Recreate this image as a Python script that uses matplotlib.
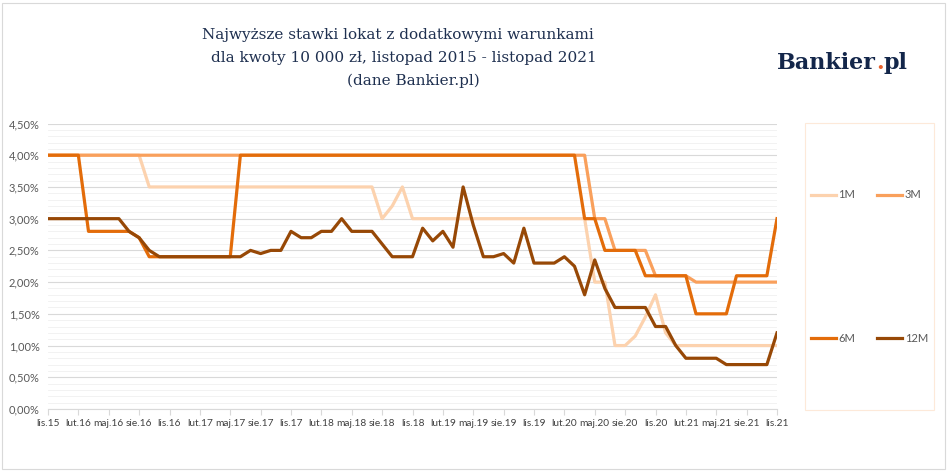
import matplotlib
matplotlib.use("Agg")
import matplotlib.pyplot as plt
from matplotlib.patches import Rectangle
from matplotlib.ticker import MultipleLocator, FuncFormatter

months = ["lis.15", "lut.16", "maj.16", "sie.16", "lis.16", "lut.17", "maj.17", "sie.17",
          "lis.17", "lut.18", "maj.18", "sie.18", "lis.18", "lut.19", "maj.19", "sie.19",
          "lis.19", "lut.20", "maj.20", "sie.20", "lis.20", "lut.21", "maj.21", "sie.21", "lis.21"]

# monthly rates, lis.15 .. lis.21 (73 points)
m1 = ([4.0] * 10 + [3.5] * 23 + [3.0, 3.2, 3.5] + [3.0] * 18 +
      [2.0, 2.0, 1.0, 1.0, 1.15, 1.45, 1.8, 1.2] + [1.0] * 11)
m3 = [4.0] * 54 + [3.0, 3.0] + [2.5] * 4 + [2.1] * 4 + [2.0] * 9
m6 = ([4.0] * 4 + [2.8] * 5 + [2.7] + [2.4] * 9 + [4.0] * 34 + [3.0] * 2 +
      [2.5] * 4 + [2.1] * 5 + [1.5] * 4 + [2.1] * 4 + [3.0])
m12 = ([3.0] * 8 + [2.8, 2.7, 2.5] + [2.4] * 9 +
       [2.5, 2.45, 2.5, 2.5, 2.8, 2.7, 2.7, 2.8, 2.8, 3.0, 2.8, 2.8, 2.8, 2.6, 2.4, 2.4,
        2.4, 2.85, 2.65, 2.8, 2.55, 3.5, 2.9, 2.4, 2.4, 2.45, 2.3, 2.85, 2.3, 2.3, 2.3,
        2.4, 2.25, 1.8, 2.35, 1.9] +
       [1.6] * 4 + [1.3] * 2 + [1.0] + [0.8] * 4 + [0.7] * 5 + [1.2])

series = [("1M", m1, "#FCD2AE"), ("3M", m3, "#F9A05C"),
          ("6M", m6, "#E36C0A"), ("12M", m12, "#974806")]

title_lines = ["Najwyższe stawki lokat z dodatkowymi warunkami",
               "dla kwoty 10 000 zł, listopad 2015 - listopad 2021",
               "(dane Bankier.pl)"]

W, H = 948, 472
fig = plt.figure(figsize=(W / 100, H / 100), dpi=100)
fig.patch.set_facecolor("white")
fig.patches.append(Rectangle((2 / W, 3 / H), 943 / W, 466 / H, transform=fig.transFigure,
                             fill=False, edgecolor="#D9D9D9", linewidth=0.8))

ax = fig.add_axes([48 / W, 1 - 409 / H, 729 / W, 285.5 / H])
x = list(range(len(m1)))
lines = {}
for name, vals, col in series:
    lines[name], = ax.plot(x, vals, color=col, linewidth=2.3, label=name,
                           solid_joinstyle="round")

ax.set_xlim(0, len(m1) - 1)
ax.set_ylim(0, 4.5)
ax.set_xticks(range(0, len(m1), 3))
ax.set_xticklabels(months)
ax.yaxis.set_major_locator(MultipleLocator(0.5))
ax.yaxis.set_minor_locator(MultipleLocator(0.1))
ax.yaxis.set_major_formatter(FuncFormatter(lambda v, p: f"{v:.2f}%".replace(".", ",")))
ax.grid(axis="y", which="major", color="#D9D9D9", linewidth=0.8)
ax.grid(axis="y", which="minor", color="#F0F0F0", linewidth=0.6)
ax.set_axisbelow(True)
for s in ["top", "right", "left"]:
    ax.spines[s].set_visible(False)
ax.spines["bottom"].set_color("#D9D9D9")
ax.tick_params(axis="x", length=4, color="#D9D9D9", labelsize=7.3, labelcolor="#404040", pad=3)
ax.tick_params(axis="y", which="both", length=0, labelsize=8, labelcolor="#595959", pad=6)
for lab in ax.get_xticklabels() + ax.get_yticklabels():
    lab.set_family("Lato")

# legend box on the right
fig.patches.append(Rectangle((805 / W, 1 - 410 / H), 129 / W, 287 / H, transform=fig.transFigure,
                             fill=False, edgecolor="#FDE9D9", linewidth=0.8))
handles = [lines["1M"], lines["6M"], lines["3M"], lines["12M"]]
leg = fig.legend(handles, [h.get_label() for h in handles], ncol=2, loc="center",
                 bbox_to_anchor=(869.5 / W, 1 - 266.5 / H), frameon=False,
                 prop={"family": "Lato", "size": 8}, labelcolor="#595959",
                 handlelength=2.25, handletextpad=0.2, columnspacing=2.0, labelspacing=11.9)

# title, three centred lines
for txt, cx, cy in zip(title_lines, [398, 404, 413], [35, 58, 81]):
    fig.text(cx / W, 1 - cy / H, txt, ha="center", va="center", family="DejaVu Serif",
             fontsize=11, color="#1F3050")

# Bankier.pl logo
r = fig.canvas.get_renderer()
t1 = fig.text(777 / W, 1 - 63 / H, "Bankier", ha="left", va="center", family="DejaVu Serif",
              fontweight="bold", fontsize=16, color="#13264A")
bb = t1.get_window_extent(r)
t2 = fig.text(bb.x1 / W, 1 - 63 / H, ".", ha="left", va="center", family="DejaVu Serif",
              fontweight="bold", fontsize=16, color="#E8612C")
bb2 = t2.get_window_extent(r)
fig.text(bb2.x1 / W, 1 - 63 / H, "pl", ha="left", va="center", family="DejaVu Serif",
         fontweight="bold", fontsize=16, color="#13264A")

fig.savefig("out.png", dpi=100)
